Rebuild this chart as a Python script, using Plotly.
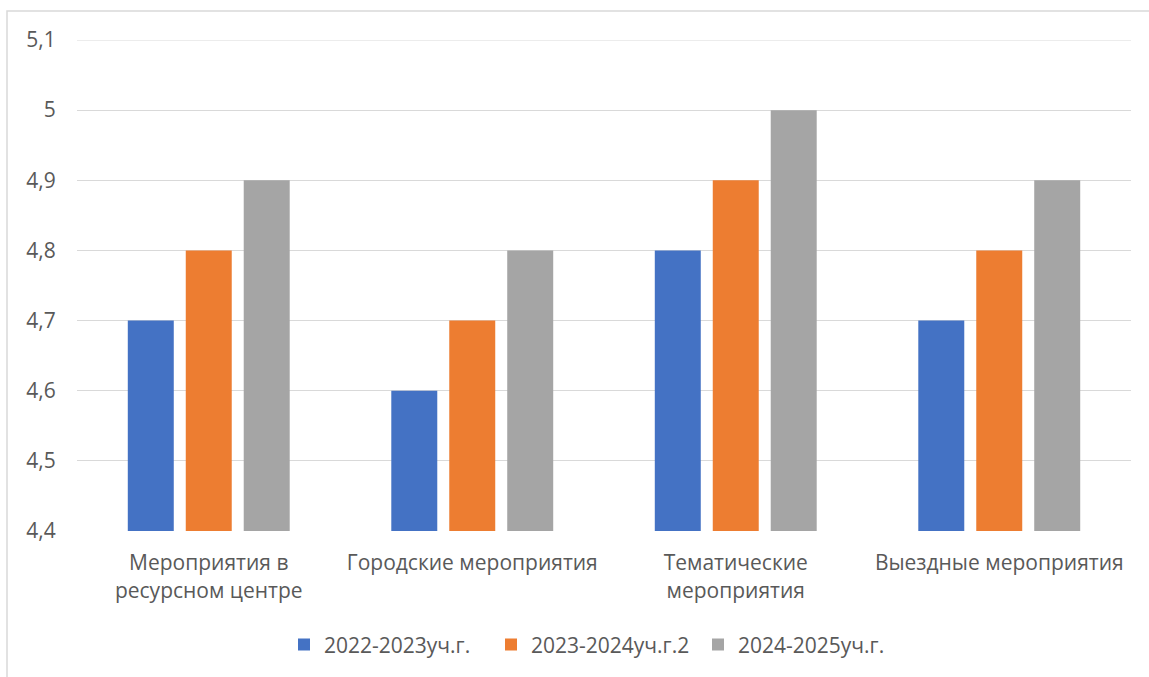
import plotly.graph_objects as go

categories = ["Мероприятия в<br>ресурсном центре", "Городские мероприятия",
              "Тематические<br>мероприятия", "Выездные мероприятия"]
series_names = ["2022-2023уч.г.", "2023-2024уч.г.2", "2024-2025уч.г."]
values_2022 = [4.7, 4.6, 4.8, 4.7]
values_2023 = [4.8, 4.7, 4.9, 4.8]
values_2024 = [4.9, 4.8, 5.0, 4.9]
colors = ["#4472C4", "#ED7D31", "#A5A5A5"]
y_ticks = [4.4, 4.5, 4.6, 4.7, 4.8, 4.9, 5.0, 5.1]

FONT = "Open Sans"
fig = go.Figure()
for name, vals, col in zip(series_names, [values_2022, values_2023, values_2024], colors):
    fig.add_trace(go.Bar(x=categories, y=vals, name=name, marker=dict(color=col, line=dict(width=0))))

fig.update_layout(
    width=1149, height=677,
    margin=dict(l=77, r=18, t=40, b=146),
    paper_bgcolor="white", plot_bgcolor="white",
    separators=", ",
    barmode="group", bargap=0.34, bargroupgap=0.207,
    font=dict(family=FONT, color="#595959", size=21),
    showlegend=True,
    legend=dict(orientation="h", x=(299 - 15 - 77) / 1054, xanchor="left", y=-0.232, yanchor="middle",
                font=dict(size=21, color="#595959"), traceorder="normal",
                entrywidth=162, entrywidthmode="pixels"),
    xaxis=dict(showgrid=False, showline=False, ticks="outside", ticklen=13,
               tickcolor="rgba(0,0,0,0)", tickfont=dict(size=21, color="#595959")),
    yaxis=dict(range=[4.4, 5.1], tickvals=y_ticks, tickformat=".1~f",
               showgrid=True, gridcolor="#D9D9D9", gridwidth=1, zeroline=False,
               showline=False, ticks="outside", ticklen=16, tickcolor="rgba(0,0,0,0)",
               tickfont=dict(size=21, color="#595959")),
    shapes=[
        dict(type="rect", xref="paper", yref="paper",
             x0=(7 - 77) / 1054, x1=1.2, y0=-0.5, y1=1 + (40 - 11) / 491,
             line=dict(color="#D9D9D9", width=1.5), fillcolor="rgba(0,0,0,0)", layer="below"),
        dict(type="line", xref="paper", yref="y", x0=0, x1=1, y0=y_ticks[-1], y1=y_ticks[-1],
             line=dict(color="#D9D9D9", width=1), layer="below"),
    ],
)
fig.write_html("out.html", config={"displayModeBar": False},
               post_script="document.body.style.margin='0';")
